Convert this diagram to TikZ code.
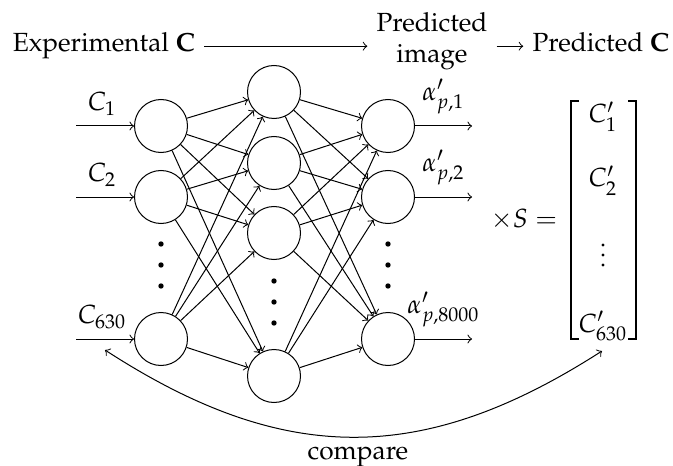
\documentclass[tikz,border=0pt]{standalone}
\usepackage[T1]{fontenc}
\usepackage{mathpazo}
\begin{document}
\fontsize{10.5}{12.6}\selectfont
\begin{tikzpicture}[x=0.4pt,y=-0.4pt,
  neuron/.style={circle,draw,minimum size=21.2pt,inner sep=0pt},
  link/.style={->},
  brk/.style={line width=0.75pt},
  vdot/.style={fill=black}]
\useasboundingbox (0,0) rectangle (673,466);

% top row
\node[anchor=base] (exp) at (104,52) {Experimental $\mathbf{C}$};
\node[align=center] (pimg) at (432,41) {Predicted\\image};
\node[anchor=base] (pc) at (601,52) {Predicted $\mathbf{C}$};
\draw[link] (exp.east) -- (exp.east -| pimg.west);
\draw[link] (exp.east -| pimg.east) -- (exp.east -| pc.west);

% neurons
\node[neuron] (I1) at (161,126) {};
\node[neuron] (I2) at (161,197) {};
\node[neuron] (I3) at (161,339) {};
\node[neuron] (H1) at (274,92) {};
\node[neuron] (H2) at (274,163) {};
\node[neuron] (H3) at (274,233) {};
\node[neuron] (H4) at (274,376) {};
\node[neuron] (O1) at (388,126) {};
\node[neuron] (O2) at (388,197) {};
\node[neuron] (O3) at (388,339) {};

\foreach \i in {I1,I2,I3}
  \foreach \h in {H1,H2,H3,H4}
    \draw[link] (\i) -- (\h);
\foreach \h in {H1,H2,H3,H4}
  \foreach \o in {O1,O2,O3}
    \draw[link] (\h) -- (\o);

% dots
\foreach \y in {244,265,286} {
  \fill[vdot] (161,\y) circle (2.7);
  \fill[vdot] (388,\y) circle (2.7);
}
\foreach \y in {281,302,323}
  \fill[vdot] (274,\y) circle (2.7);

% inputs
\coordinate (a1) at (76,126);
\coordinate (a2) at (76,197);
\coordinate (a3) at (76,339);
\draw[link] (a1) -- (I1) node[pos=0.45,above=0.5pt] (l1) {$C_1$};
\draw[link] (a2) -- (I2) node[pos=0.45,above=0.5pt] (l2) {$C_2$};
\draw[link] (a3) -- (I3) node[pos=0.45,above=0.5pt] (l3) {$C_{630}$};

% outputs
\coordinate (b1) at (472,126);
\coordinate (b2) at (472,197);
\coordinate (b3) at (472,339);
\draw[link] (O1) -- (b1) node[pos=0.5,above=1pt] (m1) {$\alpha'_{p,1}$};
\draw[link] (O2) -- (b2) node[pos=0.5,above=1pt] (m2) {$\alpha'_{p,2}$};
\draw[link] (O3) -- (b3) node[pos=0.5,above=1pt] (m3) {$\alpha'_{p,8000}$};

% times S =
\node[anchor=base] (xs) at (524,227) {$\times S =$};

% matrix
\draw[brk] (579,101) -- (571,101) -- (571,339) -- (579,339);
\draw[brk] (628,101) -- (636,101) -- (636,339) -- (628,339);
\node[anchor=base] (c1) at (603,123) {$C'_1$};
\node[anchor=base] (c2) at (603,187) {$C'_2$};
\foreach \y in {245,255,265}
  \fill (603,\y) circle (1.6);
\node[anchor=base] (c3) at (603,332) {$C'_{630}$};

% compare
\coordinate (cmpL) at (105,350);
\coordinate (cmpR) at (602,351);
\draw[<->] (cmpL) .. controls (284,466) and (423,466) .. (cmpR);
\node[anchor=base,inner sep=0pt] (cmp) at (358,459) {compare};
\end{tikzpicture}
\end{document}
